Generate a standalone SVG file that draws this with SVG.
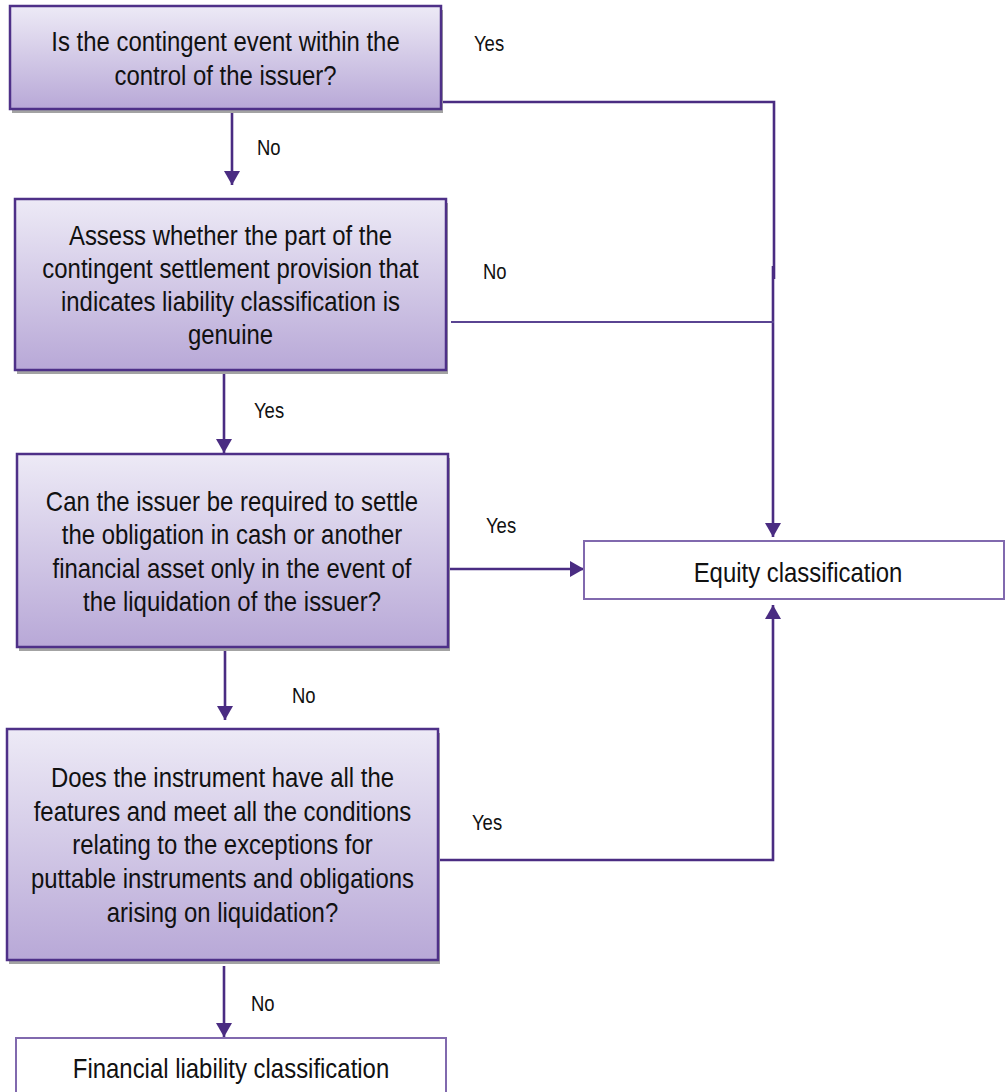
<svg xmlns="http://www.w3.org/2000/svg" width="1005" height="1092" viewBox="0 0 1005 1092">
  <defs>
    <linearGradient id="boxFill" x1="0" y1="0" x2="0" y2="1">
      <stop offset="0" stop-color="#EDEAF6"/>
      <stop offset="1" stop-color="#B8A8D7"/>
    </linearGradient>
    <marker id="arrow" viewBox="0 0 14 16" refX="14" refY="8" markerWidth="14" markerHeight="16" markerUnits="userSpaceOnUse" orient="auto">
      <path d="M0,0 L14,8 L0,16 Z" fill="#4A2C82"/>
    </marker>
  </defs>
  <style>
    .decision { fill: url(#boxFill); stroke: #4E3088; stroke-width: 2.5; }
    .shadow { fill: #A3A3A3; }
    .outcome { fill: #FFFFFF; stroke: #8169AE; stroke-width: 2; }
    .node-text { font-family: "Liberation Sans", Arial, sans-serif; font-size: 28.5px; fill: #111111; text-anchor: middle; }
    .label { font-family: "Liberation Sans", Arial, sans-serif; font-size: 22px; fill: #111111; }
    .conn { fill: none; stroke: #4A2C82; stroke-width: 2.6; }
    .conn-thin { fill: none; stroke: #5A4492; stroke-width: 2; }
  </style>

  <rect width="1005" height="1092" fill="#FFFFFF"/>

  <!-- connectors -->
  <g id="connectors">
    <!-- Q1 -> Q2 (No) -->
    <line class="conn" x1="232" y1="111" x2="232" y2="185" marker-end="url(#arrow)"/>
    <!-- Q1 -> Equity (Yes) -->
    <polyline class="conn" points="441,102 774,102 774,279"/>
    <line class="conn" x1="773" y1="266" x2="773" y2="537" marker-end="url(#arrow)"/>
    <!-- Q2 -> Equity (No) -->
    <line class="conn-thin" x1="451" y1="322" x2="774" y2="322"/>
    <!-- Q2 -> Q3 (Yes) -->
    <line class="conn" x1="224" y1="372" x2="224" y2="453" marker-end="url(#arrow)"/>
    <!-- Q3 -> Equity (Yes) -->
    <line class="conn" x1="448" y1="569" x2="584" y2="569" marker-end="url(#arrow)"/>
    <!-- Q3 -> Q4 (No) -->
    <line class="conn" x1="225" y1="650" x2="225" y2="720" marker-end="url(#arrow)"/>
    <!-- Q4 -> Equity (Yes) -->
    <polyline class="conn" points="438,860 773,860 773,605" marker-end="url(#arrow)"/>
    <!-- Q4 -> Financial liability (No) -->
    <line class="conn" x1="224" y1="966" x2="224" y2="1037" marker-end="url(#arrow)"/>

    <!-- branch labels -->
    <text class="label" transform="translate(474,51) scale(0.84,1)">Yes</text>
    <text class="label" transform="translate(257,155) scale(0.84,1)">No</text>
    <text class="label" transform="translate(483,279) scale(0.84,1)">No</text>
    <text class="label" transform="translate(254,418) scale(0.84,1)">Yes</text>
    <text class="label" transform="translate(486,533) scale(0.84,1)">Yes</text>
    <text class="label" transform="translate(292,703) scale(0.84,1)">No</text>
    <text class="label" transform="translate(472,830) scale(0.84,1)">Yes</text>
    <text class="label" transform="translate(251,1011) scale(0.84,1)">No</text>
  </g>

  <!-- decision: control of the issuer -->
  <g id="q-control">
    <rect class="shadow" x="12" y="10" width="431" height="103"/>
    <rect class="decision" x="10" y="6" width="431" height="103"/>
    <g transform="translate(225.5,0) scale(0.84,1)">
      <text class="node-text" x="0" y="51">Is the contingent event within the</text>
      <text class="node-text" x="0" y="85">control of the issuer?</text>
    </g>
  </g>

  <!-- decision: genuine provision -->
  <g id="q-genuine">
    <rect class="shadow" x="17" y="203" width="431" height="171"/>
    <rect class="decision" x="15" y="199" width="431" height="171"/>
    <g transform="translate(230.5,0) scale(0.84,1)">
      <text class="node-text" x="0" y="245">Assess whether the part of the</text>
      <text class="node-text" x="0" y="278">contingent settlement provision that</text>
      <text class="node-text" x="0" y="311">indicates liability classification is</text>
      <text class="node-text" x="0" y="344">genuine</text>
    </g>
  </g>

  <!-- decision: settlement only on liquidation -->
  <g id="q-liquidation">
    <rect class="shadow" x="19" y="458" width="431" height="193"/>
    <rect class="decision" x="17" y="454" width="431" height="193"/>
    <g transform="translate(232,0) scale(0.84,1)">
      <text class="node-text" x="0" y="511">Can the issuer be required to settle</text>
      <text class="node-text" x="0" y="544.5">the obligation in cash or another</text>
      <text class="node-text" x="0" y="578">financial asset only in the event of</text>
      <text class="node-text" x="0" y="611.5">the liquidation of the issuer?</text>
    </g>
  </g>

  <!-- decision: puttable exceptions -->
  <g id="q-puttable">
    <rect class="shadow" x="9" y="733" width="431" height="231"/>
    <rect class="decision" x="7" y="729" width="431" height="231"/>
    <g transform="translate(222.5,0) scale(0.84,1)">
      <text class="node-text" x="0" y="787">Does the instrument have all the</text>
      <text class="node-text" x="0" y="821">features and meet all the conditions</text>
      <text class="node-text" x="0" y="854.5">relating to the exceptions for</text>
      <text class="node-text" x="0" y="888">puttable instruments and obligations</text>
      <text class="node-text" x="0" y="922">arising on liquidation?</text>
    </g>
  </g>

  <!-- outcome: equity -->
  <g id="equity">
    <rect class="outcome" x="584" y="541" width="420" height="58"/>
    <g transform="translate(798,0) scale(0.84,1)">
      <text class="node-text" x="0" y="582">Equity classification</text>
    </g>
  </g>

  <!-- outcome: financial liability -->
  <g id="financial-liability">
    <rect class="outcome" x="16" y="1038" width="430" height="70"/>
    <g transform="translate(231,0) scale(0.84,1)">
      <text class="node-text" x="0" y="1078">Financial liability classification</text>
    </g>
  </g>
</svg>
